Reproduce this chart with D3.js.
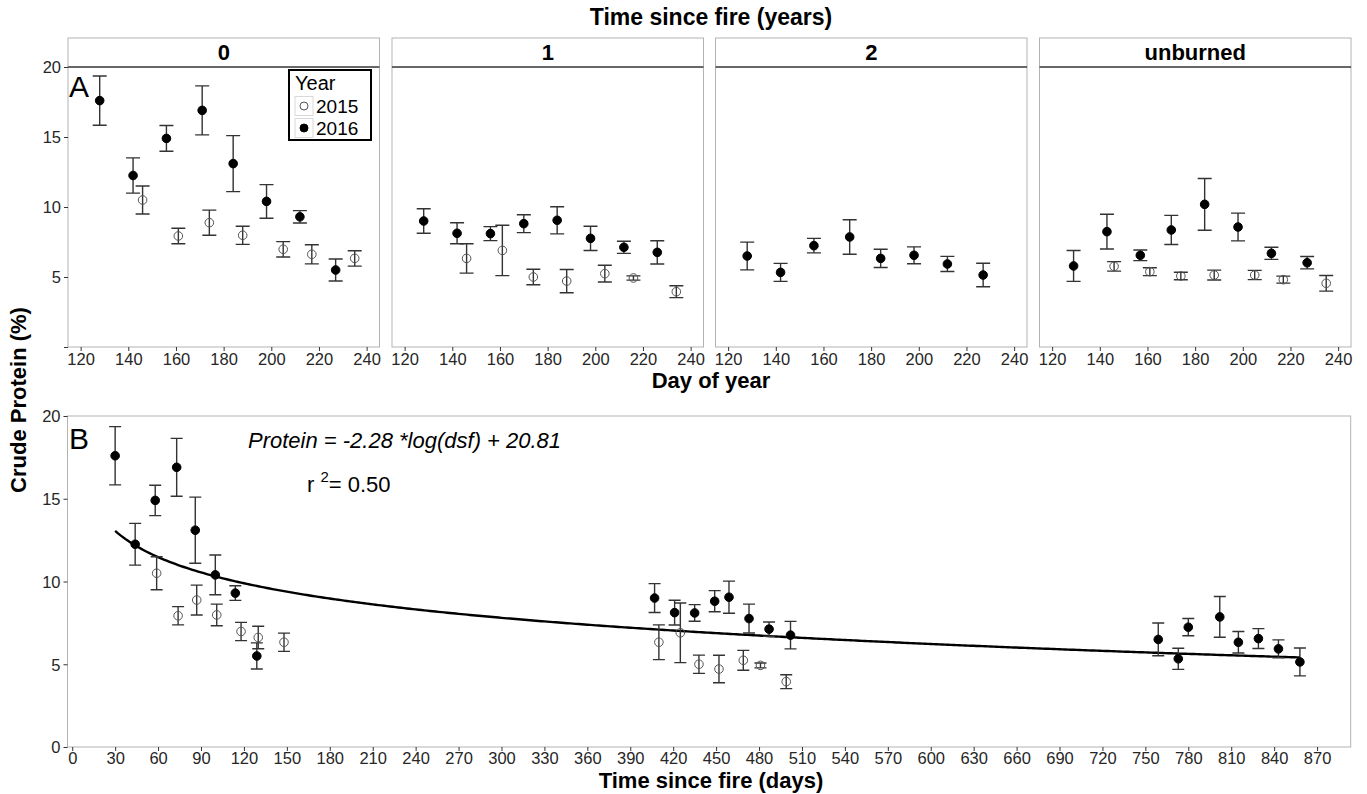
<!DOCTYPE html>
<html lang="en">
<head>
<meta charset="UTF-8">
<title>Crude protein</title>
<script src="https://d3js.org/d3.v7.min.js"></script>
<style>
    body { margin: 0; background: #fff; font-family: "Liberation Sans", Arial, Helvetica, sans-serif; }
    .tick-lab { font-size: 16.5px; fill: #262626; }
    .ttl { font-size: 22px; font-weight: bold; fill: #000; }
    .strip { font-size: 22px; font-weight: bold; fill: #000; }
</style>
</head>
<body>
<script>
// facets (time since fire, years)
const panels = ["0", "1", "2", "unburned"]
const years = ["2015", "2016"]

// day of year per panel / year
const day0_2015 = [146, 161, 174, 188, 205, 217, 235]
const day0_2016 = [128, 142, 156, 171, 184, 198, 212, 227]
const day1_2015 = [146, 161, 174, 188, 204, 216, 234]
const day1_2016 = [128, 142, 156, 170, 184, 198, 212, 226]
const day2_2016 = [128, 142, 156, 171, 184, 198, 212, 227]
const dayU_2015 = [146, 161, 174, 188, 205, 217, 235]
const dayU_2016 = [129, 143, 157, 170, 184, 198, 212, 227]

// mean crude protein (%)
const cp0_2015 = [10.5, 7.93, 8.88, 7.98, 6.98, 6.62, 6.33]
const cp0_2016 = [17.6, 12.25, 14.9, 16.9, 13.1, 10.4, 9.3, 5.5]
const cp1_2015 = [6.33, 6.9, 5.0, 4.71, 5.24, 4.93, 3.95]
const cp1_2016 = [9.0, 8.12, 8.1, 8.81, 9.05, 7.76, 7.12, 6.76]
const cp2_2016 = [6.5, 5.33, 7.24, 7.86, 6.33, 6.55, 5.93, 5.14]
const cpU_2015 = [5.76, 5.38, 5.07, 5.14, 5.14, 4.81, 4.55]
const cpU_2016 = [5.79, 8.24, 6.55, 8.36, 10.19, 8.57, 6.69, 6.02]

// standard errors
const se0_2015 = [1.0, 0.55, 0.9, 0.65, 0.55, 0.68, 0.55]
const se0_2016 = [1.76, 1.26, 0.92, 1.75, 2.0, 1.2, 0.44, 0.79]
const se1_2015 = [1.05, 1.8, 0.55, 0.83, 0.6, 0.15, 0.42]
const se1_2016 = [0.87, 0.75, 0.5, 0.64, 0.97, 0.87, 0.43, 0.83]
const se2_2016 = [0.99, 0.64, 0.52, 1.23, 0.65, 0.6, 0.54, 0.84]
const seU_2015 = [0.34, 0.28, 0.27, 0.35, 0.33, 0.25, 0.56]
const seU_2016 = [1.1, 1.24, 0.38, 1.04, 1.85, 0.99, 0.43, 0.44]

// days since fire (panel B)
const dsf0_2015 = [59, 74, 87, 101, 118, 130, 148]
const dsf0_2016 = [30, 44, 58, 73, 86, 100, 114, 129]
const dsf1_2015 = [410, 425, 438, 452, 469, 481, 499]
const dsf1_2016 = [407, 421, 435, 449, 459, 473, 487, 502]
const dsf2_2016 = [759, 773, 780, 802, 815, 829, 843, 858]

// fitted curve: Protein = a*log(dsf) + b
const fitA = -2.28
const fitB = 20.81
const fitRange = [30, 858]

const topTicksY = [0, 5, 10, 15, 20]
const topTicksX = [120, 140, 160, 180, 200, 220, 240]
const botTicksY = [0, 5, 10, 15, 20]
const botTicksX = d3.range(0, 871, 30)

function rows(day, cp, se, year, dsf) {
    return day.map((d, i) => ({ day: d, cp: cp[i], se: se[i], year: year, dsf: dsf ? dsf[i] : null }))
}

const facetData = [
    rows(day0_2015, cp0_2015, se0_2015, "2015", dsf0_2015).concat(rows(day0_2016, cp0_2016, se0_2016, "2016", dsf0_2016)),
    rows(day1_2015, cp1_2015, se1_2015, "2015", dsf1_2015).concat(rows(day1_2016, cp1_2016, se1_2016, "2016", dsf1_2016)),
    rows(day2_2016, cp2_2016, se2_2016, "2016", dsf2_2016),
    rows(dayU_2015, cpU_2015, seU_2015, "2015").concat(rows(dayU_2016, cpU_2016, seU_2016, "2016"))
]

const W = 1367, H = 794
const svg = d3.select("body").append("svg").attr("width", W).attr("height", H)

const border = "#b3b3b3"
const barCol = "#333"

function drawPoints(g, data, x, y, cap) {
    g.selectAll(".eb").data(data).enter().append("path")
        .attr("fill", "none").attr("stroke", barCol).attr("stroke-width", 1.4)
        .attr("d", d => {
            let px = x(d.xv)
            let y1 = y(d.cp - d.se), y2 = y(d.cp + d.se)
            return `M${px - cap},${y2}H${px + cap}M${px},${y2}V${y1}M${px - cap},${y1}H${px + cap}`
        })
    g.selectAll(".pt").data(data).enter().append("circle")
        .attr("cx", d => x(d.xv))
        .attr("cy", d => y(d.cp))
        .attr("r", 4.3)
        .attr("fill", d => d.year === "2016" ? "#000" : "none")
        .attr("stroke", d => d.year === "2016" ? "#000" : "#555")
        .attr("stroke-width", 1)
}

// ---------- panel A (facets) ----------
const pLeft = [68, 392, 715.5, 1039.5]
const pW = 311.5
const pTop = 67, pBot = 347, sTop = 38

const yTop = d3.scaleLinear().domain([0, 20]).range([pBot, pTop])

panels.forEach((name, i) => {
    const x = d3.scaleLinear().domain([114.7, 245.4]).range([pLeft[i], pLeft[i] + pW])
    const g = svg.append("g")

    g.append("rect").attr("x", pLeft[i]).attr("y", pTop).attr("width", pW).attr("height", pBot - pTop)
        .attr("fill", "#fff").attr("stroke", border)
    g.append("rect").attr("x", pLeft[i]).attr("y", sTop).attr("width", pW).attr("height", pTop - sTop)
        .attr("fill", "#fff").attr("stroke", border)
    g.append("line").attr("x1", pLeft[i]).attr("x2", pLeft[i] + pW).attr("y1", pTop).attr("y2", pTop)
        .attr("stroke", "#444").attr("stroke-width", 1.5)
    g.append("text").attr("class", "strip").attr("x", pLeft[i] + pW / 2).attr("y", sTop + 22)
        .attr("text-anchor", "middle").text(name)

    const xa = g.append("g").attr("transform", `translate(0,${pBot})`)
        .call(d3.axisBottom(x).tickValues(topTicksX).tickSize(4).tickPadding(2))
    xa.select(".domain").remove()
    xa.selectAll("line").attr("stroke", barCol)
    xa.selectAll("text").attr("class", "tick-lab").attr("font-size", null)

    if (i === 0) {
        // the 0 tick has no label in the original
        const ya = g.append("g").attr("transform", `translate(${pLeft[0]},0)`)
            .call(d3.axisLeft(yTop).tickValues(topTicksY).tickSize(4).tickPadding(3)
                .tickFormat(v => v === 0 ? "" : v))
        ya.select(".domain").remove()
        ya.selectAll("line").attr("stroke", barCol)
        ya.selectAll("text").attr("class", "tick-lab").attr("dy", "0.36em").attr("font-size", null)
    }

    const data = facetData[i].map(d => Object.assign({}, d, { xv: d.day }))
    drawPoints(g, data, x, yTop, 7)
})

// letter A
svg.append("text").attr("x", 69).attr("y", 97).attr("font-size", 30).text("A")

// legend
const lg = svg.append("g").attr("transform", "translate(289,70)")
lg.append("rect").attr("width", 82).attr("height", 70).attr("fill", "#fff").attr("stroke", "#000").attr("stroke-width", 2)
lg.append("text").attr("x", 6).attr("y", 20).attr("font-size", 20).text("Year")
years.forEach((yr, i) => {
    const ky = 25 + i * 22
    lg.append("rect").attr("x", 6).attr("y", ky + 1.5).attr("width", 18).attr("height", 19)
        .attr("fill", "#fff").attr("stroke", "#d9d9d9")
    lg.append("circle").attr("cx", 15).attr("cy", ky + 11).attr("r", 4)
        .attr("fill", yr === "2016" ? "#000" : "none").attr("stroke", yr === "2016" ? "#000" : "#555")
    lg.append("text").attr("x", 27).attr("y", ky + 18).attr("font-size", 19).text(yr)
})

// titles for A
svg.append("text").attr("class", "ttl").attr("x", 711).attr("y", 25).attr("text-anchor", "middle")
    .style("font-size", "23px").text("Time since fire (years)")
svg.append("text").attr("class", "ttl").attr("x", 711).attr("y", 388).attr("text-anchor", "middle").text("Day of year")

// ---------- panel B ----------
const bL = 67.5, bR = 1350.7, bT = 416, bB = 747
const xB = d3.scaleLinear().domain([-3.3, 893.5]).range([bL, bR])
const yB = d3.scaleLinear().domain([0, 20]).range([bB, bT])

const gb = svg.append("g")
gb.append("rect").attr("x", bL).attr("y", bT).attr("width", bR - bL).attr("height", bB - bT)
    .attr("fill", "#fff").attr("stroke", border)

const xba = gb.append("g").attr("transform", `translate(0,${bB})`)
    .call(d3.axisBottom(xB).tickValues(botTicksX).tickSize(4).tickPadding(1))
xba.select(".domain").remove()
xba.selectAll("line").attr("stroke", barCol)
xba.selectAll("text").attr("class", "tick-lab").attr("font-size", null)

const yba = gb.append("g").attr("transform", `translate(${bL},0)`)
    .call(d3.axisLeft(yB).tickValues(botTicksY).tickSize(4).tickPadding(3))
yba.select(".domain").remove()
yba.selectAll("line").attr("stroke", barCol)
yba.selectAll("text").attr("class", "tick-lab").attr("dy", "0.36em").attr("font-size", null)

// fitted curve
const fitPts = d3.range(fitRange[0], fitRange[1] + 1, 2).map(t => [t, fitA * Math.log(t) + fitB])
gb.append("path").datum(fitPts)
    .attr("fill", "none").attr("stroke", "#000").attr("stroke-width", 2.4)
    .attr("d", d3.line().x(d => xB(d[0])).y(d => yB(d[1])))

const bData = facetData.slice(0, 3).flat().map(d => Object.assign({}, d, { xv: d.dsf }))
drawPoints(gb, bData, xB, yB, 6)

svg.append("text").attr("x", 69).attr("y", 449).attr("font-size", 30).text("B")

svg.append("text").attr("x", 248).attr("y", 448).attr("font-size", 22).attr("font-style", "italic")
    .text("Protein = -2.28 *log(dsf) + 20.81")
const r2 = svg.append("text").attr("x", 307).attr("y", 492).attr("font-size", 22)
r2.append("tspan").text("r ")
r2.append("tspan").attr("font-size", 15).attr("dy", -10).text("2")
r2.append("tspan").attr("dy", 10).text("= 0.50")

svg.append("text").attr("class", "ttl").attr("x", 711).attr("y", 788).attr("text-anchor", "middle").text("Time since fire (days)")
svg.append("text").attr("class", "ttl").attr("transform", "translate(26,400) rotate(-90)")
    .attr("text-anchor", "middle").text("Crude Protein (%)")
</script>
</body>
</html>
